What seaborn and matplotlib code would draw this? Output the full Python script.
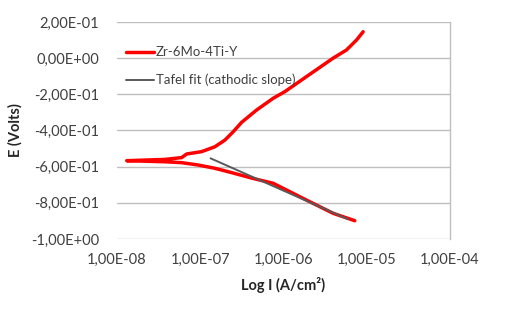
import numpy as np
import pandas as pd
import seaborn as sns
import matplotlib.pyplot as plt
from matplotlib.ticker import FuncFormatter, NullLocator

#---------------------

# anodic branch (current in A/cm2, potential in V)
anodic_i = [1.31e-8, 3.77e-8, 5.98e-8, 6.87e-8, 1.04e-7, 1.50e-7, 1.98e-7, 2.49e-7,
            3.14e-7, 4.75e-7, 7.52e-7, 1.04e-6, 1.89e-6, 3.95e-6, 5.71e-6, 7.53e-6, 9.06e-6]
anodic_e = [-0.567, -0.560, -0.550, -0.530, -0.517, -0.490, -0.453, -0.407,
            -0.355, -0.287, -0.222, -0.185, -0.102, 0.0, 0.045, 0.100, 0.146]

# cathodic branch
cathodic_i = [1.31e-8, 3.77e-8, 5.98e-8, 9.46e-8, 1.50e-7, 2.38e-7, 4.30e-7,
              7.52e-7, 1.89e-6, 3.95e-6, 7.19e-6]
cathodic_e = [-0.567, -0.573, -0.578, -0.591, -0.609, -0.633, -0.665,
              -0.692, -0.785, -0.858, -0.899]

# tafel fit line
tafel_i = [1.33e-7, 5.98e-6]
tafel_e = [-0.554, -0.891]

x_ticks = [1e-8, 1e-7, 1e-6, 1e-5, 1e-4]
y_ticks = [0.2, 0.0, -0.2, -0.4, -0.6, -0.8, -1.0]

#---------------------

sns.set_style('white')
plt.rcParams['font.family'] = ['Lato', 'DejaVu Sans']

# one continuous path: cathodic branch back to Ecorr, then anodic branch up
curve = pd.DataFrame({
    'i': cathodic_i[::-1] + anodic_i[1:],
    'e': cathodic_e[::-1] + anodic_e[1:],
})
tafel = pd.DataFrame({'i': tafel_i, 'e': tafel_e})

fig = plt.figure(figsize=(5.10, 3.14), dpi=100)
ax = fig.add_axes([0.2294, 0.2389, 0.6529, 0.6911])

sns.lineplot(data=curve, x='i', y='e', sort=False, estimator=None, ax=ax,
             color='#ff0000', linewidth=2.5, solid_capstyle='round',
             solid_joinstyle='round', label='Zr-6Mo-4Ti-Y')
sns.lineplot(data=tafel, x='i', y='e', sort=False, estimator=None, ax=ax,
             color='#595959', linewidth=1.4, label='Tafel fit (cathodic slope)')

ax.set_xscale('log')
ax.set_xlim(1e-8, 1e-4)
ax.set_ylim(-1.0, 0.2)
ax.set_xticks(x_ticks)
ax.xaxis.set_minor_locator(NullLocator())
ax.set_yticks(y_ticks)

fmt = FuncFormatter(lambda v, p: f'{v:.2E}'.replace('.', ','))
ax.xaxis.set_major_formatter(fmt)
ax.yaxis.set_major_formatter(fmt)
ax.tick_params(axis='both', length=0, labelsize=10.5, colors='#404040')
ax.tick_params(axis='y', pad=13)
ax.tick_params(axis='x', pad=10)

ax.grid(axis='y', color='#bfbfbf', linewidth=1.0)
ax.set_axisbelow(True)
for side in ['left', 'top', 'bottom']:
    ax.spines[side].set_visible(False)
ax.spines['right'].set_color('#bfbfbf')
ax.spines['right'].set_linewidth(1.0)

ax.set_xlabel('Log I (A/cm²)', fontsize=10.5, fontweight='bold', labelpad=7)
ax.set_ylabel('E (Volts)', fontsize=10.5, fontweight='bold', labelpad=6)

leg = ax.legend(loc='upper left', bbox_to_anchor=(0.0, 0.93), frameon=False,
                fontsize=9.5, handlelength=2.1, handletextpad=0.15,
                labelspacing=1.15, borderaxespad=0.3)
for t in leg.get_texts():
    t.set_color('#404040')

fig.savefig('out.png', dpi=100)
